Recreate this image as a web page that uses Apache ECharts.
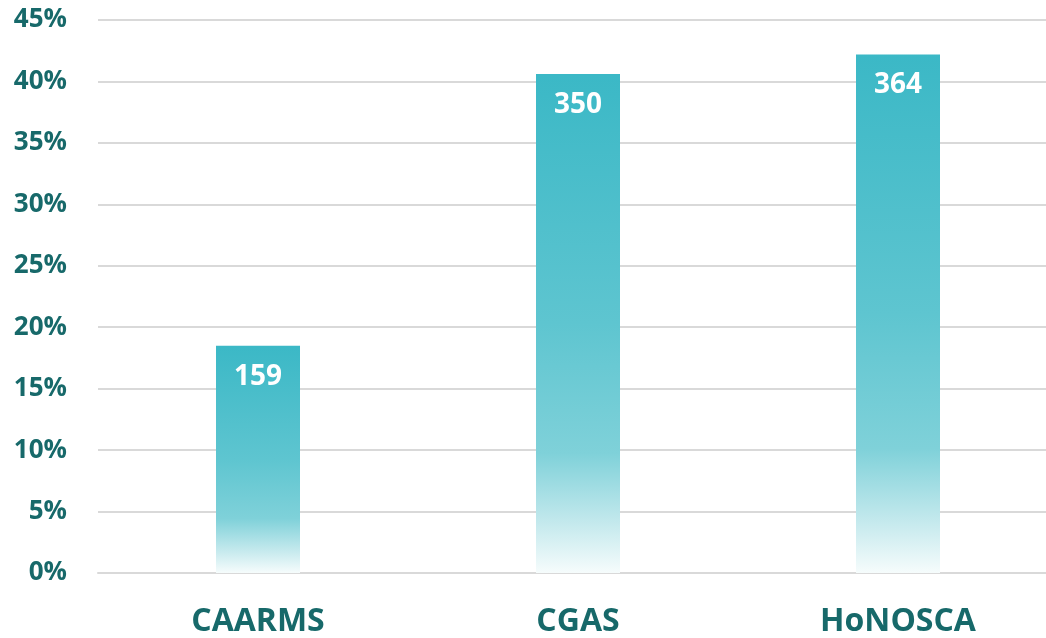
<!DOCTYPE html>
<html>
<head>
<meta charset="utf-8">
<script src="https://cdn.jsdelivr.net/npm/echarts@6/dist/echarts.min.js"></script>
<style>
  html, body { margin: 0; padding: 0; background: #fff; overflow: hidden; }
  #chart { width: 1058px; height: 638px; }
</style>
</head>
<body>
<div id="chart"></div>
<script>
const categories = ['CAARMS', 'CGAS', 'HoNOSCA']
const percentValues = [18.5, 40.6, 42.2]
const countLabels = [159, 350, 364]
const yTicks = [0, 5, 10, 15, 20, 25, 30, 35, 40, 45]

const myChart = echarts.init(document.querySelector('#chart'))
const tealText = '#17696a'

const option = {
    animation: false,
    grid: { left: 98, top: 20, right: 0, bottom: 63, containLabel: false },
    xAxis: {
        type: 'category',
        data: categories,
        axisLine: { show: true, lineStyle: { color: '#d9d9d9', width: 2 } },
        axisTick: { show: false },
        axisLabel: {
            color: tealText,
            fontFamily: 'Open Sans',
            fontWeight: 'bold',
            fontSize: 32,
            margin: 33,
        },
    },
    yAxis: {
        type: 'value',
        min: yTicks[0],
        max: yTicks[yTicks.length - 1],
        interval: 5,
        axisLine: { show: false },
        axisTick: { show: false },
        splitLine: { lineStyle: { color: '#d9d9d9', width: 2 } },
        axisLabel: {
            color: tealText,
            fontFamily: 'Open Sans',
            fontWeight: 'bold',
            fontSize: 26,
            margin: 31,
            formatter: (v) => v + '%',
        },
    },
    series: [
        {
            type: 'bar',
            barWidth: 84,
            z: 3,
            data: percentValues,
            itemStyle: {
                color: new echarts.graphic.LinearGradient(0, 0, 0, 1, [
                    { offset: 0, color: '#3bb8c6' },
                    { offset: 0.5, color: '#5ec5d0' },
                    { offset: 0.76, color: '#7fd1d9' },
                    { offset: 0.9, color: '#c4e9ed' },
                    { offset: 1, color: '#f6fcfc' },
                ]),
            },
            label: {
                show: true,
                position: 'insideTop',
                distance: 17,
                color: '#ffffff',
                fontFamily: 'Open Sans',
                fontWeight: 'bold',
                fontSize: 28,
                formatter: (p) => countLabels[p.dataIndex],
            },
        },
    ],
}
myChart.setOption(option)
</script>
</body>
</html>
